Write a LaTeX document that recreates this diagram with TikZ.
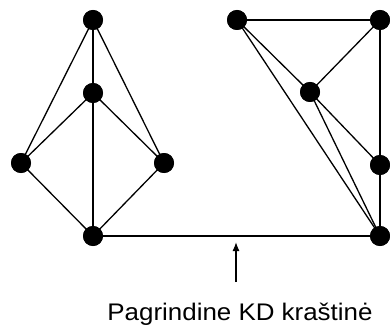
\documentclass[tikz,border=0pt]{standalone}
\usepackage{fontspec}
\setmainfont{Liberation Sans}
\usetikzlibrary{arrows.meta}
\begin{document}
\begin{tikzpicture}[x=1pt,y=-1pt,
  vertex/.style={circle,fill=black,inner sep=0pt,minimum size=20pt},
  edge/.style={line width=1.3pt,black}]
\useasboundingbox (0,0) rectangle (390,331);
\begin{scope}
\clip (0,0) rectangle (390,331);
% left graph
\node[vertex] (t) at (93,20) {};
\node[vertex] (m) at (93,93) {};
\node[vertex] (l) at (21,163) {};
\node[vertex] (r) at (164,163) {};
\node[vertex] (b) at (93,236) {};
% right graph
\node[vertex] (a) at (237,20) {};
\node[vertex] (q) at (380,20) {};
\node[vertex] (c) at (310,92) {};
\node[vertex] (d) at (380,165) {};
\node[vertex] (e) at (380,236) {};
% edges
\draw[edge] (t.center) -- (l.center);
\draw[edge] (t.center) -- (r.center);
\draw[edge] (t.center) -- (m.center);
\draw[edge] (m.center) -- (b.center);
\draw[edge] (m.center) -- (l.center);
\draw[edge] (m.center) -- (r.center);
\draw[edge] (l.center) -- (b.center);
\draw[edge] (r.center) -- (b.center);
\draw[edge] (b.center) -- (e.center);
\draw[edge] (a.center) -- (q.center);
\draw[edge] (a.center) -- (c.center);
\draw[edge] (a.center) -- (e.center);
\draw[edge] (q.center) -- (c.center);
\draw[edge] (q.center) -- (d.center);
\draw[edge] (d.center) -- (e.center);
\draw[edge] (c.center) -- (d.center);
\draw[edge] (c.center) -- (e.center);
% vertices again, on top of the edges
\foreach \v in {t,m,l,r,b,a,q,c,d,e}
  \fill (\v) circle (10pt);
\end{scope}
% pointer to the base edge
\coordinate (tail) at (236,282);
\coordinate (tip) at (236,242);
\draw[line width=1.3pt,-{Latex[length=9pt,width=7pt]}] (tail) -- (tip);
\node[anchor=base,xscale=1.08,font=\fontsize{24}{28}\selectfont] (lbl) at (240,320) {Pagrindine KD kraštinė};
\end{tikzpicture}
\end{document}
